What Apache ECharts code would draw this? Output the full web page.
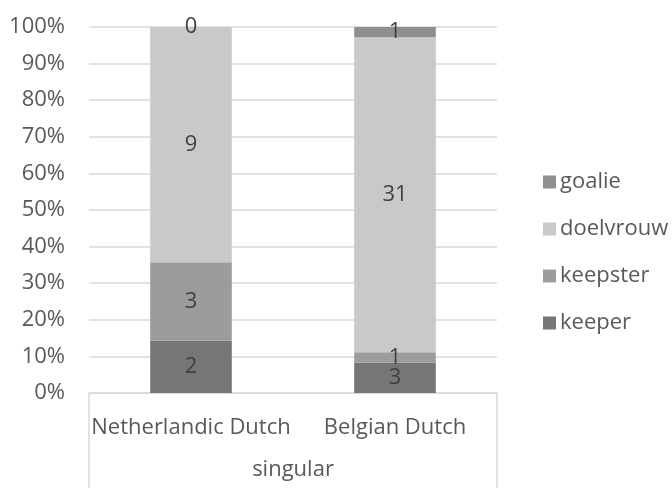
<!DOCTYPE html>
<html>
<head>
<meta charset="utf-8">
<script src="https://cdn.jsdelivr.net/npm/echarts@6/dist/echarts.min.js"></script>
<style>
  html, body { margin: 0; padding: 0; background: #fff; }
  #chart { width: 672px; height: 488px; }
</style>
</head>
<body>
<div id="chart"></div>
<script>
// Counts of each term per variety (stacked to 100%)
const categories = ['Netherlandic Dutch', 'Belgian Dutch'];
const groupLabel = ['singular'];
const keeper = [2, 3];
const keepster = [3, 1];
const doelvrouw = [9, 31];
const goalie = [0, 1];
const yTicks = [0, 10, 20, 30, 40, 50, 60, 70, 80, 90, 100];

const seriesDefs = [
  { name: 'keeper', values: keeper, color: '#767676' },
  { name: 'keepster', values: keepster, color: '#9c9c9c' },
  { name: 'doelvrouw', values: doelvrouw, color: '#c9c9c9' },
  { name: 'goalie', values: goalie, color: '#8f8f8f' }
];

const totals = categories.map((_, i) =>
  seriesDefs.reduce((s, d) => s + d.values[i], 0));

const FONT = 'Open Sans';
const TEXT = '#595959';
const FS = 22;

const chart = echarts.init(document.getElementById('chart'), null, { renderer: 'canvas' });

chart.setOption({
  animation: false,
  textStyle: { fontFamily: FONT },
  grid: { left: 89, right: 175, top: 27, bottom: 95, containLabel: false },
  legend: {
    orient: 'vertical',
    left: 538,
    top: 166,
    itemWidth: 13,
    itemHeight: 13,
    itemGap: 25,
    icon: 'rect',
    data: ['goalie', 'doelvrouw', 'keepster', 'keeper'],
    textStyle: { fontFamily: FONT, fontSize: FS, color: TEXT, padding: [0, 0, 0, -1] }
  },
  xAxis: [
    {
      type: 'category',
      data: categories,
      position: 'bottom',
      axisLine: { show: true, lineStyle: { color: '#d9d9d9', width: 1.5 } },
      axisTick: { show: false },
      axisLabel: { interval: 0, margin: 24, fontFamily: FONT, fontSize: FS, color: TEXT }
    },
    {
      type: 'category',
      data: groupLabel,
      position: 'bottom',
      offset: 0,
      axisLine: { show: false },
      axisTick: { show: true, length: 95, lineStyle: { color: '#d9d9d9', width: 1.5 } },
      axisLabel: { margin: 66, fontFamily: FONT, fontSize: FS, color: TEXT }
    }
  ],
  yAxis: {
    type: 'value',
    min: 0,
    max: 100,
    interval: 10,
    axisLine: { show: false },
    axisTick: { show: false },
    splitLine: { lineStyle: { color: '#d9d9d9', width: 1.5 } },
    axisLabel: {
      margin: 24,
      fontFamily: FONT,
      fontSize: FS,
      color: TEXT,
      formatter: v => yTicks.includes(v) ? v + '%' : ''
    }
  },
  series: seriesDefs.map(d => ({
    name: d.name,
    type: 'bar',
    stack: 'total',
    xAxisIndex: 0,
    barWidth: '40%',
    itemStyle: { color: d.color },
    data: d.values.map((v, i) => ({ value: v / totals[i] * 100, count: v })),
    label: {
      show: true,
      position: 'inside',
      fontFamily: FONT,
      fontSize: FS,
      color: '#404040',
      formatter: p => String(p.data.count)
    }
  }))
});
</script>
</body>
</html>
